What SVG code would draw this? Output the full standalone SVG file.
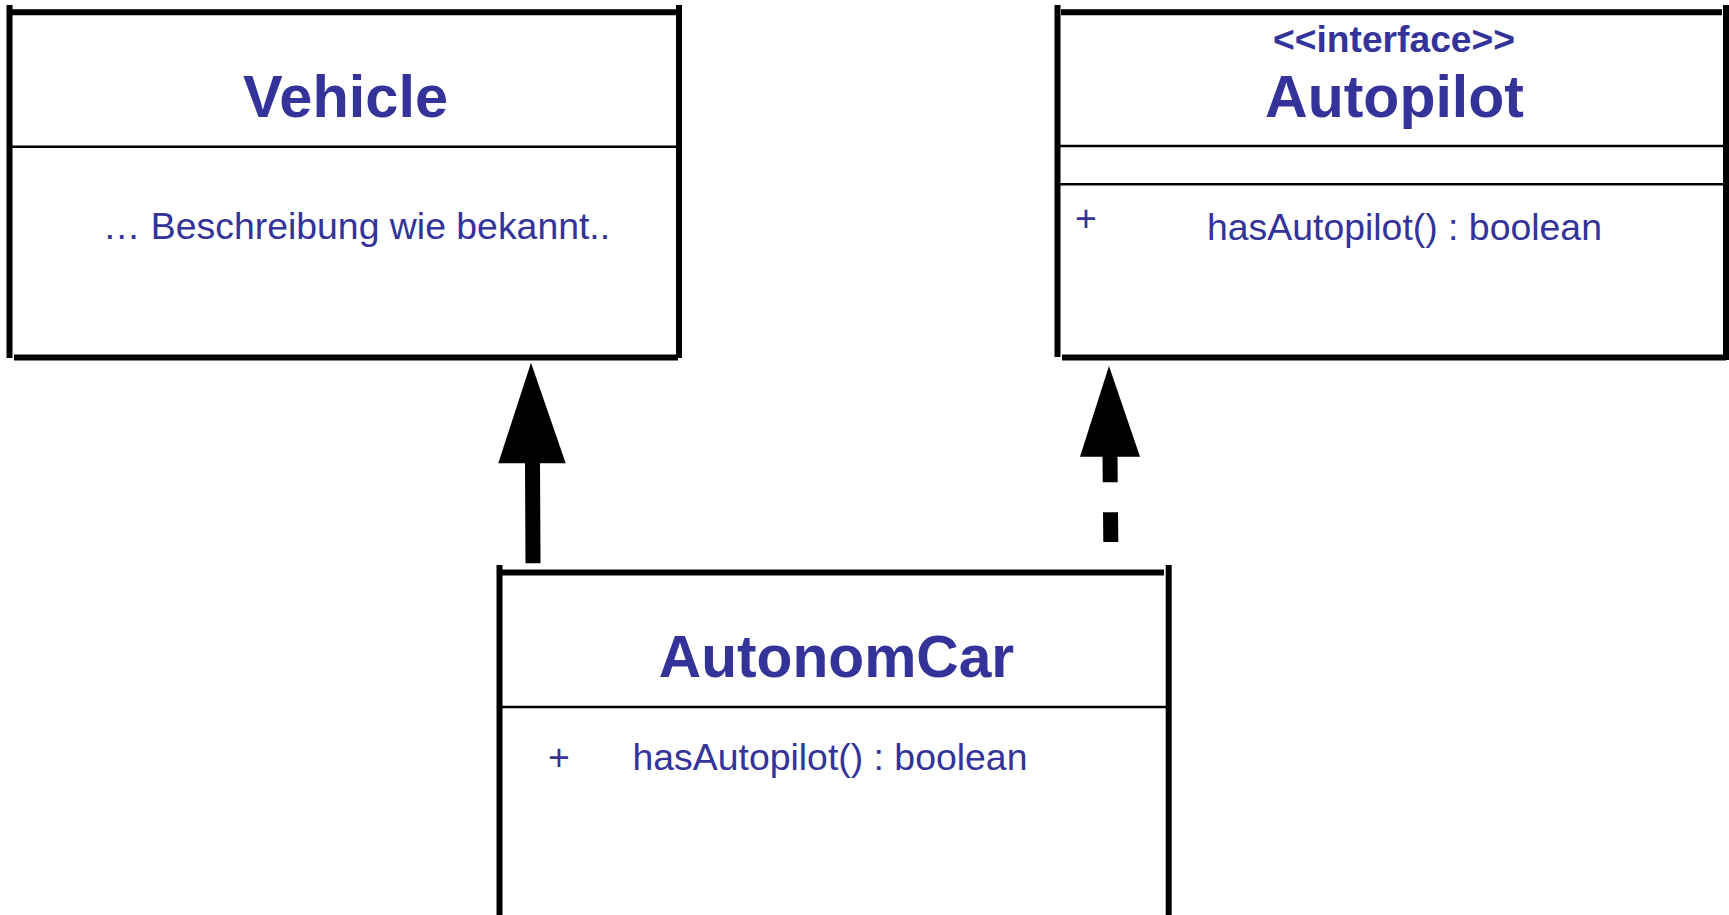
<svg xmlns="http://www.w3.org/2000/svg" width="1729" height="915" viewBox="0 0 1729 915">
  <style>
    .frame { stroke: #000; stroke-width: 6; fill: none; stroke-linecap: butt; }
    .divider { stroke: #000; stroke-width: 2.5; fill: none; }
    .title { font-family: "Liberation Sans", Arial, sans-serif; font-weight: bold; fill: #333399; text-anchor: middle; }
    .stereo { font-family: "Liberation Sans", Arial, sans-serif; font-weight: bold; font-size: 37.2px; fill: #333399; text-anchor: middle; }
    .member { font-family: "Liberation Sans", Arial, sans-serif; font-size: 37.4px; fill: #333399; }
    .shaft { stroke: #000; stroke-width: 15; fill: none; stroke-linecap: butt; }
    .head { fill: #000; stroke: none; }
  </style>
  <rect width="1729" height="915" fill="#fff"/>

  <!-- Class Vehicle -->
  <g id="vehicle">
    <line class="frame" x1="9.5" y1="5" x2="9.5" y2="358"/>
    <line class="frame" x1="12" y1="12.3" x2="677" y2="12.3"/>
    <line class="frame" x1="679" y1="5" x2="679" y2="358"/>
    <line class="frame" x1="14" y1="357.5" x2="678" y2="357.5"/>
    <line class="divider" x1="12" y1="146.7" x2="677" y2="146.7"/>
    <text class="title" x="345.5" y="117" font-size="59.5">Vehicle</text>
    <text class="member" x="103" y="239.3">… Beschreibung wie bekannt..</text>
  </g>

  <!-- Interface Autopilot -->
  <g id="autopilot">
    <line class="frame" x1="1057.5" y1="5" x2="1057.5" y2="357"/>
    <line class="frame" x1="1061" y1="12.3" x2="1722" y2="12.3"/>
    <line class="frame" x1="1726" y1="5" x2="1726" y2="360"/>
    <line class="frame" x1="1062" y1="357.5" x2="1726" y2="357.5"/>
    <line class="divider" x1="1060" y1="146" x2="1723" y2="146"/>
    <line class="divider" x1="1060" y1="184.3" x2="1723" y2="184.3"/>
    <text class="stereo" x="1394" y="51.7">&lt;&lt;interface&gt;&gt;</text>
    <text class="title" x="1394.5" y="117" font-size="59">Autopilot</text>
    <text class="member" x="1075" y="231">+</text>
    <text class="member" x="1207" y="239.5">hasAutopilot() : boolean</text>
  </g>

  <!-- Class AutonomCar -->
  <g id="autonomcar">
    <line class="frame" x1="499.5" y1="565" x2="499.5" y2="915"/>
    <line class="frame" x1="502" y1="572.5" x2="1164" y2="572.5"/>
    <line class="frame" x1="1168.7" y1="565" x2="1168.7" y2="915"/>
    <line class="divider" x1="502" y1="707" x2="1166" y2="707"/>
    <text class="title" x="836.5" y="677.2" font-size="58.7">AutonomCar</text>
    <text class="member" x="548" y="770">+</text>
    <text class="member" x="632.5" y="770">hasAutopilot() : boolean</text>
  </g>

  <!-- Relations -->
  <g id="connectors">
    <!-- generalization AutonomCar -> Vehicle -->
    <line class="shaft" x1="533" y1="563.3" x2="532.5" y2="462"/>
    <polygon class="head" points="531,362.7 498.3,463.3 565.7,463.3"/>
    <!-- realization AutonomCar -> Autopilot -->
    <line class="shaft" x1="1110.8" y1="542" x2="1110" y2="455.7" stroke-dasharray="29.7 30"/>
    <polygon class="head" points="1109,366 1080,456.7 1140,456.7"/>
  </g>
</svg>
